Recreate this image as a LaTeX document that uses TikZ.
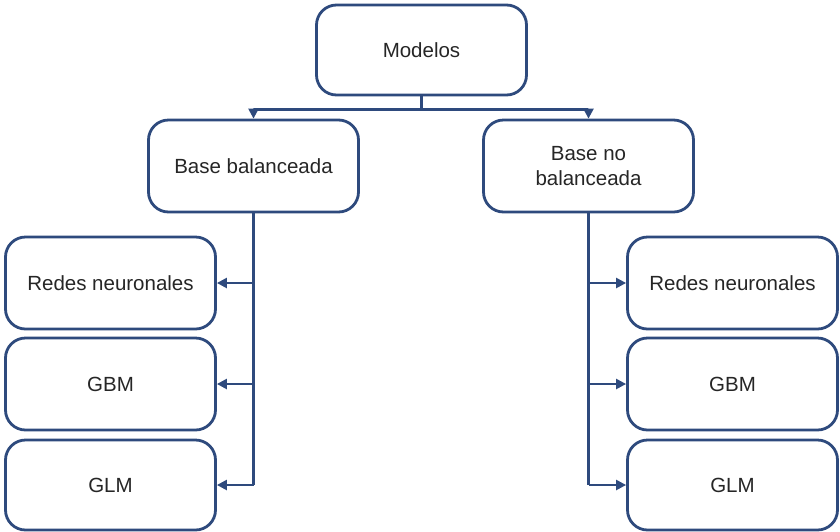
\documentclass[tikz,border=0pt]{standalone}
\usepackage{fontspec}
\setmainfont{Liberation Sans}
\usetikzlibrary{arrows.meta}
\definecolor{navy}{HTML}{2E4A7D}
\tikzset{
  box/.style={draw=navy, line width=2.8pt, rounded corners=20pt, fill=white,
    minimum width=210pt, minimum height=90pt, align=center,
    font=\fontsize{20.5}{25}\selectfont, text=black!85},
  link/.style={draw=navy, line width=2.3pt},
  arr/.style={link, -{Triangle[length=10pt,width=10pt]}}
}
\begin{document}
\begin{tikzpicture}[x=1pt,y=-1pt]
\useasboundingbox (0,0) rectangle (840,531);
% top level
\node[box] (mod) at (421.5,50) {Modelos};
% second level
\node[box, minimum height=92pt] (bal) at (253.5,166) {Base balanceada};
\node[box, minimum height=92pt] (nob) at (588.5,166) {Base no\\balanceada};
% model boxes, left column
\node[box, minimum height=92pt] (rl) at (110.5,283) {Redes neuronales};
\node[box, minimum height=92pt] (gl) at (110.5,384) {GBM};
\node[box] (ml) at (110.5,485) {GLM};
% model boxes, right column
\node[box, minimum height=92pt] (rr) at (732.5,283) {Redes neuronales};
\node[box, minimum height=92pt] (gr) at (732.5,384) {GBM};
\node[box] (mr) at (732.5,485) {GLM};
% connectors from the top
\draw[link] (mod.south) -- ++(0,13) coordinate (j);
\draw[arr] (j) -| (bal.north);
\draw[arr] (j) -| (nob.north);
% left trunk
\draw[link] (bal.south) -- (bal.south |- ml.east);
\draw[arr] (bal.south |- rl.east) -- (rl.east);
\draw[arr] (bal.south |- gl.east) -- (gl.east);
\draw[arr] (bal.south |- ml.east) -- (ml.east);
% right trunk
\draw[link] (nob.south) -- (nob.south |- mr.west);
\draw[arr] (nob.south |- rr.west) -- (rr.west);
\draw[arr] (nob.south |- gr.west) -- (gr.west);
\draw[arr] (nob.south |- mr.west) -- (mr.west);
\end{tikzpicture}
\end{document}
